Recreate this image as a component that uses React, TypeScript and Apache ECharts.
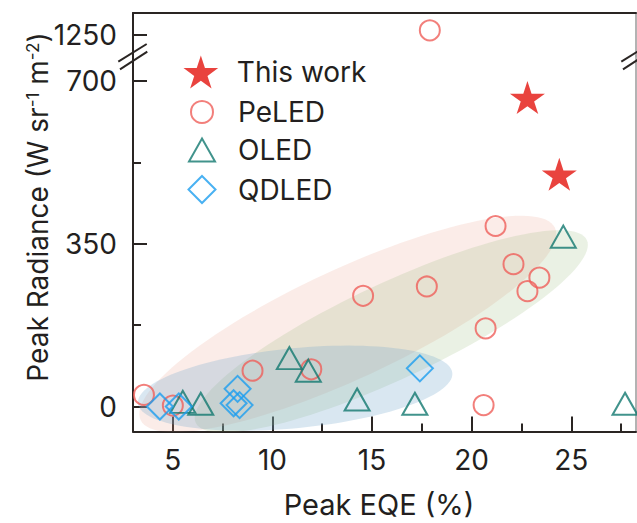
import React, { useEffect, useRef } from 'react';
import * as echarts from 'echarts';

// ---- data -------------------------------------------------------------
const xMajorTicks = [5, 10, 15, 20, 25];
const xMinorTicks = [7.5, 12.5, 17.5, 22.5, 27.5];
const yMajorTicks = [0, 350, 700];
const yMinorTicks = [175, 525];
const yUpperTicks = [1250];

// [Peak EQE (%), Peak radiance (W sr^-1 m^-2)]
const thisWork = [[22.8, 664], [24.4, 499]];
const peledLow = [
  [21.2, 388], [22.1, 306], [23.4, 277], [22.8, 248], [17.75, 258], [14.55, 238],
  [20.7, 168], [20.6, 3], [9.0, 77], [11.95, 80], [3.55, 25], [5.0, 2],
];
const peledHigh = [[17.9, 1260]];
const oled = [
  [24.6, 365], [17.15, 6], [27.7, 6], [10.85, 104], [11.8, 77], [14.25, 15],
  [6.4, 6], [5.5, 10],
];
const qdled = [[17.4, 82], [4.35, 0], [5.3, 0], [8.25, 38], [8.05, 7], [8.35, 3]];

// shaded clusters: major-axis end points [x1, y1, x2, y2] and minor/major ratio
const regionPeLED = [3.38, -29, 24.18, 384, 0.24];
const regionOLED = [6.15, -35, 25.78, 358, 0.222];
const regionQDLED = [3.25, 7, 19.03, 72, 0.253];

// ---- styles -----------------------------------------------------------
const FONT = 'Inter, "Liberation Sans", Arial, sans-serif';
const INK = '#231f20';
const AXIS = '#2a2523';
const RED = '#e3140e';
const PINK = '#ef5f5a';
const TEAL = '#12786f';
const BLUE = '#1c9def';
const regionFills = ['rgba(235,160,140,0.2)', 'rgba(150,185,120,0.2)', 'rgba(120,170,205,0.28)'];

const STAR =
  'path://M50,0 L61.23,34.55 L97.55,34.55 L68.17,55.9 L79.39,90.45 L50,69.1 L20.61,90.45 L31.83,55.9 L2.45,34.55 L38.77,34.55 Z';

// plot frame (px)
const LEFT = 133;
const RIGHT = 636;
const TOP = 13;
const BREAK_Y = 56;
const BOTTOM = 431.5;
const W = 637;
const H = 523;

const X_MIN = 3;
const X_MAX = 28.25;
const Y_LOW = [-53.7, 753.4];
const Y_HIGH = [1204.9, 1297.3];

const LEGEND_ICON_CX = 201;
const LEGEND_TEXT_X = 237;
const LEGEND_FONT = 28;

const legendItems = [
  { name: 'This work', icon: STAR, w: 35, h: 33, cy: 72, color: RED, hollow: false },
  { name: 'PeLED', icon: 'circle', w: 22, h: 22, cy: 112, color: PINK, hollow: true },
  { name: 'OLED', icon: 'triangle', w: 26, h: 23, cy: 150, color: TEAL, hollow: true },
  { name: 'QDLED', icon: 'diamond', w: 27, h: 27, cy: 189, color: BLUE, hollow: true },
];

const hollowStyle = (c: string) => ({ color: 'rgba(0,0,0,0)', borderColor: c, borderWidth: 2 });

const tickStyle = { color: AXIS, width: 2 };
const plainNumber = (v: number) => String(v);

function buildOption(): any {
  const gridBase = { left: LEFT, right: W - RIGHT, outerBoundsMode: 'none', containLabel: false };
  const labelStyle = { margin: 16, fontSize: 28, fontFamily: FONT, color: INK, formatter: plainNumber };

  const xAxis = [
    {
      gridIndex: 0, type: 'value', min: X_MIN, max: X_MAX, position: 'bottom',
      axisLine: { show: true, onZero: false, lineStyle: { color: AXIS, width: 2 } },
      axisTick: { show: true, inside: true, length: 15, customValues: xMajorTicks, lineStyle: tickStyle },
      axisLabel: { show: true, customValues: xMajorTicks, ...labelStyle, margin: 14 },
      splitLine: { show: false },
    },
    {
      gridIndex: 0, type: 'value', min: X_MIN, max: X_MAX, position: 'bottom',
      axisLine: { show: false, onZero: false },
      axisTick: { show: true, inside: true, length: 8, customValues: xMinorTicks, lineStyle: tickStyle },
      axisLabel: { show: false },
      splitLine: { show: false },
    },
    {
      gridIndex: 1, type: 'value', min: X_MIN, max: X_MAX, position: 'top',
      axisLine: { show: true, onZero: false, lineStyle: { color: AXIS, width: 2 } },
      axisTick: { show: false },
      axisLabel: { show: false },
      splitLine: { show: false },
    },
  ];

  const yAxis = [
    {
      gridIndex: 0, type: 'value', min: Y_LOW[0], max: Y_LOW[1], position: 'left',
      axisLine: { show: true, onZero: false, lineStyle: { color: AXIS, width: 2 } },
      axisTick: { show: true, inside: true, length: 14, customValues: yMajorTicks, lineStyle: tickStyle },
      axisLabel: { show: true, customValues: yMajorTicks, ...labelStyle },
      splitLine: { show: false },
    },
    {
      gridIndex: 0, type: 'value', min: Y_LOW[0], max: Y_LOW[1], position: 'left',
      axisLine: { show: false, onZero: false },
      axisTick: { show: true, inside: true, length: 8, customValues: yMinorTicks, lineStyle: tickStyle },
      axisLabel: { show: false },
      splitLine: { show: false },
    },
    {
      gridIndex: 0, type: 'value', min: Y_LOW[0], max: Y_LOW[1], position: 'right',
      axisLine: { show: true, onZero: false, lineStyle: { color: '#9a9a9a', width: 1.5 } },
      axisTick: { show: false }, axisLabel: { show: false }, splitLine: { show: false },
    },
    {
      gridIndex: 1, type: 'value', min: Y_HIGH[0], max: Y_HIGH[1], position: 'left',
      axisLine: { show: true, onZero: false, lineStyle: { color: AXIS, width: 2 } },
      axisTick: { show: true, inside: true, length: 14, customValues: yUpperTicks, lineStyle: tickStyle },
      axisLabel: { show: true, customValues: yUpperTicks, ...labelStyle },
      splitLine: { show: false },
    },
    {
      gridIndex: 1, type: 'value', min: Y_HIGH[0], max: Y_HIGH[1], position: 'right',
      axisLine: { show: true, onZero: false, lineStyle: { color: '#9a9a9a', width: 1.5 } },
      axisTick: { show: false }, axisLabel: { show: false }, splitLine: { show: false },
    },
  ];

  const regions = [regionPeLED, regionOLED, regionQDLED];

  const renderRegion = (params: any, api: any) => {
    const p1 = api.coord([api.value(0), api.value(1)]);
    const p2 = api.coord([api.value(2), api.value(3)]);
    const ratio = api.value(4);
    const cx = (p1[0] + p2[0]) / 2;
    const cy = (p1[1] + p2[1]) / 2;
    const dx = (p2[0] - p1[0]) / 2;
    const dy = (p2[1] - p1[1]) / 2;
    const a = Math.hypot(dx, dy);
    const b = a * ratio;
    const ux = dx / a;
    const uy = dy / a;
    const pts: number[][] = [];
    const n = 120;
    for (let i = 0; i < n; i++) {
      const t = (i / n) * Math.PI * 2;
      const c = Math.cos(t) * a;
      const s = Math.sin(t) * b;
      pts.push([cx + c * ux - s * uy, cy + c * uy + s * ux]);
    }
    return {
      type: 'polygon',
      shape: { points: pts },
      style: { fill: regionFills[params.dataIndex] },
      silent: true,
    };
  };

  const scatterBase = { type: 'scatter', emphasis: { disabled: true }, z: 3 };

  const series: any[] = [
    {
      type: 'custom', name: 'regions', xAxisIndex: 0, yAxisIndex: 0, clip: true, z: 1, silent: true,
      renderItem: renderRegion, data: regions,
      encode: { x: [0, 2], y: [1, 3] },
    },
    {
      ...scatterBase, name: 'PeLED', xAxisIndex: 0, yAxisIndex: 0, data: peledLow,
      symbol: 'circle', symbolSize: 20, itemStyle: hollowStyle(PINK),
    },
    {
      ...scatterBase, name: 'PeLED', xAxisIndex: 2, yAxisIndex: 3, data: peledHigh,
      symbol: 'circle', symbolSize: 20, itemStyle: hollowStyle(PINK),
    },
    {
      ...scatterBase, name: 'OLED', xAxisIndex: 0, yAxisIndex: 0, data: oled,
      symbol: 'triangle', symbolSize: [25, 22], itemStyle: hollowStyle(TEAL),
    },
    {
      ...scatterBase, name: 'QDLED', xAxisIndex: 0, yAxisIndex: 0, data: qdled,
      symbol: 'diamond', symbolSize: [26, 26], itemStyle: hollowStyle(BLUE),
    },
    {
      ...scatterBase, name: 'This work', xAxisIndex: 0, yAxisIndex: 0, data: thisWork,
      symbol: STAR, symbolSize: [35, 33], itemStyle: { color: RED, borderWidth: 0 },
    },
  ];

  const legend = legendItems.map((it) => {
    const left = LEGEND_ICON_CX - it.w / 2;
    const textPad = LEGEND_TEXT_X - (left + it.w + 5);
    return {
      show: true,
      data: [it.name],
      icon: it.icon,
      itemWidth: it.w,
      itemHeight: it.h,
      left,
      top: it.cy - Math.max(it.h / 2, LEGEND_FONT / 2),
      padding: 0,
      orient: 'vertical',
      selectedMode: false,
      textStyle: { fontSize: LEGEND_FONT, fontFamily: FONT, color: INK, padding: [0, 0, 0, textPad] },
      itemStyle: it.hollow ? hollowStyle(it.color) : { color: it.color, borderWidth: 0 },
    };
  });

  const breakLine = (x1: number, y1: number, x2: number, y2: number) => ({
    type: 'line',
    shape: { x1, y1, x2, y2 },
    style: { stroke: AXIS, lineWidth: 2 },
    z: 10,
  });

  const graphic = [
    breakLine(118.3, 61.7, 146.7, 44),
    breakLine(120, 69.3, 147.3, 51.7),
    breakLine(118.3 + (RIGHT - LEFT), 61.7, 146.7 + (RIGHT - LEFT), 44),
    breakLine(120 + (RIGHT - LEFT), 69.3, 147.3 + (RIGHT - LEFT), 51.7),
    {
      type: 'text',
      x: 38,
      y: 207,
      rotation: Math.PI / 2,
      style: {
        text: '{m|Peak Radiance (W sr}{s|-1}{m| m}{s|-2}{m|)}',
        align: 'center',
        verticalAlign: 'middle',
        rich: {
          m: { fontSize: 28, fontFamily: FONT, fill: INK },
          s: { fontSize: 17, fontFamily: FONT, fill: INK, verticalAlign: 'top' },
        },
      },
      z: 10,
    },
    {
      type: 'text',
      x: 379,
      y: 504,
      style: {
        text: 'Peak EQE (%)',
        fontSize: 29,
        fontFamily: FONT,
        fill: INK,
        align: 'center',
        verticalAlign: 'middle',
      },
      z: 10,
    },
  ];

  return {
    animation: false,
    backgroundColor: '#ffffff',
    grid: [
      { ...gridBase, top: BREAK_Y, bottom: H - BOTTOM },
      { ...gridBase, top: TOP, height: BREAK_Y - TOP },
    ],
    xAxis,
    yAxis,
    legend,
    series,
    graphic,
  };
}

export default function App() {
  const ref = useRef<HTMLDivElement>(null);

  useEffect(() => {
    if (!ref.current) return;
    const chart = echarts.init(ref.current, undefined, { renderer: 'svg' });
    chart.setOption(buildOption());
    return () => {
      chart.dispose();
    };
  }, []);

  return (
    <div
      ref={ref}
      style={{ position: 'fixed', left: 0, top: 0, width: W, height: H, background: '#fff' }}
    />
  );
}
